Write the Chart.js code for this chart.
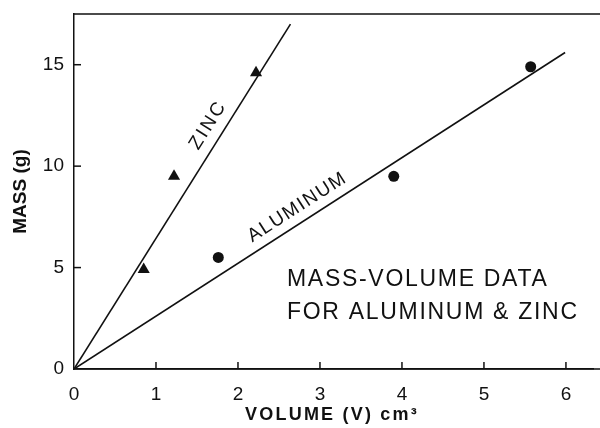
<!DOCTYPE html>
<html>
<head>
<meta charset="utf-8">
<script src="https://cdn.jsdelivr.net/npm/chart.js@4.4.0/dist/chart.umd.min.js"></script>
<style>
  html, body { margin: 0; padding: 0; background: #fff; }
  #wrap { width: 600px; height: 428px; position: relative; }
</style>
</head>
<body>
<div id="wrap"><canvas id="c"></canvas></div>
<script>
// ---- data ----
const zincVolume = [0.85, 1.22, 2.22];
const zincMass   = [4.9, 9.5, 14.6];
const aluminumVolume = [1.76, 3.90, 5.57];
const aluminumMass   = [5.5, 9.5, 14.9];
// hand-drawn best-fit lines (start and end points)
const zincLineVolume = [0, 2.64];
const zincLineMass   = [0, 17.0];
const aluminumLineVolume = [0, 5.99];
const aluminumLineMass   = [0, 15.6];
// tick labels
const xTickValues = [0, 1, 2, 3, 4, 5, 6];
const yTickValues = [0, 5, 10, 15];
const xTitle = 'VOLUME (V) cm\u00B3';
const yTitle = 'MASS (g)';
const zincLabel = 'ZINC';
const aluminumLabel = 'ALUMINUM';
const noteLines = ['MASS-VOLUME DATA', 'FOR ALUMINUM & ZINC'];

const toPts = (xs, ys) => xs.map((x, i) => ({ x: x, y: ys[i] }));
const INK = '#111';
const FONT = '"Liberation Sans", Arial, Helvetica, sans-serif';

const decor = {
  id: 'decor',
  afterDraw(chart) {
    const ctx = chart.ctx;
    const xs = chart.scales.x, ys = chart.scales.y;
    const a = chart.chartArea;
    ctx.save();
    ctx.strokeStyle = INK;
    ctx.lineWidth = 1.5;
    // top frame line and bottom axis running to the edge
    ctx.beginPath();
    ctx.moveTo(a.left - 1, a.top);
    ctx.lineTo(600, a.top);
    ctx.moveTo(a.left, a.bottom);
    ctx.lineTo(600, a.bottom);
    ctx.stroke();
    // inward ticks
    xTickValues.forEach(v => {
      if (v === 0) return;
      const px = xs.getPixelForValue(v);
      ctx.beginPath(); ctx.moveTo(px, a.bottom); ctx.lineTo(px, a.bottom - 7); ctx.stroke();
    });
    yTickValues.forEach(v => {
      if (v === 0) return;
      const py = ys.getPixelForValue(v);
      ctx.beginPath(); ctx.moveTo(a.left, py); ctx.lineTo(a.left + 7, py); ctx.stroke();
    });
    // line labels, rotated along their lines
    function lineLabel(text, lx, ly, atFrac, offset, size, spacing) {
      const x0 = xs.getPixelForValue(lx[0]), y0 = ys.getPixelForValue(ly[0]);
      const x1 = xs.getPixelForValue(lx[1]), y1 = ys.getPixelForValue(ly[1]);
      const ang = Math.atan2(y1 - y0, x1 - x0);
      const cx = x0 + (x1 - x0) * atFrac, cy = y0 + (y1 - y0) * atFrac;
      ctx.save();
      ctx.translate(cx, cy);
      ctx.rotate(ang);
      ctx.fillStyle = INK;
      ctx.font = size + 'px ' + FONT;
      ctx.letterSpacing = spacing + 'px';
      ctx.textAlign = 'center';
      ctx.textBaseline = 'middle';
      ctx.fillText(text, spacing / 2, -offset);
      ctx.restore();
    }
    lineLabel(zincLabel, zincLineVolume, zincLineMass, 0.68, 16, 19, 2.5);
    lineLabel(aluminumLabel, aluminumLineVolume, aluminumLineMass, 0.47, 15, 19, 1.6);
    // note block
    ctx.fillStyle = INK;
    ctx.font = '23px ' + FONT;
    ctx.letterSpacing = '1.7px';
    ctx.textAlign = 'left';
    ctx.textBaseline = 'middle';
    ctx.fillText(noteLines[0], 287, 280);
    ctx.fillText(noteLines[1], 287, 313);
    // x axis title
    ctx.font = 'bold 18px ' + FONT;
    ctx.letterSpacing = '2.2px';
    ctx.textAlign = 'center';
    ctx.textBaseline = 'middle';
    ctx.fillText(xTitle, 332, 415);
    ctx.restore();
  }
};

new Chart(document.getElementById('c'), {
  type: 'scatter',
  data: {
    datasets: [
      { label: 'Zinc fit', type: 'line', data: toPts(zincLineVolume, zincLineMass),
        borderColor: INK, borderWidth: 1.6, pointRadius: 0, fill: false, tension: 0 },
      { label: 'Aluminum fit', type: 'line', data: toPts(aluminumLineVolume, aluminumLineMass),
        borderColor: INK, borderWidth: 1.6, pointRadius: 0, fill: false, tension: 0 },
      { label: 'Zinc', data: toPts(zincVolume, zincMass), pointStyle: 'triangle',
        pointRadius: 7, backgroundColor: INK, borderColor: INK, borderWidth: 0 },
      { label: 'Aluminum', data: toPts(aluminumVolume, aluminumMass), pointStyle: 'circle',
        pointRadius: 5.5, backgroundColor: INK, borderColor: INK, borderWidth: 0 }
    ]
  },
  options: {
    responsive: true,
    maintainAspectRatio: false,
    animation: false,
    layout: { padding: { top: 14, right: 0, left: 0, bottom: 0 } },
    plugins: { legend: { display: false }, tooltip: { enabled: false } },
    scales: {
      x: {
        type: 'linear', min: 0, max: 6.33,
        afterFit: s => { s.height = 59; },
        afterBuildTicks: s => { s.ticks = xTickValues.map(v => ({ value: v })); },
        grid: { display: false, drawTicks: false },
        border: { display: true, color: INK, width: 1.5 },
        ticks: { color: INK, padding: 14, font: { family: FONT, size: 19 }, maxRotation: 0, autoSkip: false },
        title: { display: false }
      },
      y: {
        type: 'linear', min: 0, max: 17.5,
        afterFit: s => { s.width = 74; s.paddingTop = 0; s.paddingBottom = 0; },
        afterBuildTicks: s => { s.ticks = yTickValues.map(v => ({ value: v })); },
        grid: { display: false, drawTicks: false },
        border: { display: true, color: INK, width: 1.5 },
        ticks: { color: INK, padding: 10, font: { family: FONT, size: 19, lineHeight: 0.5 }, autoSkip: false },
        title: { display: true, text: yTitle, color: INK, padding: { top: 9, bottom: 0 },
                 font: { family: FONT, size: 19, weight: 'bold' } }
      }
    }
  },
  plugins: [decor]
});
</script>
</body>
</html>
